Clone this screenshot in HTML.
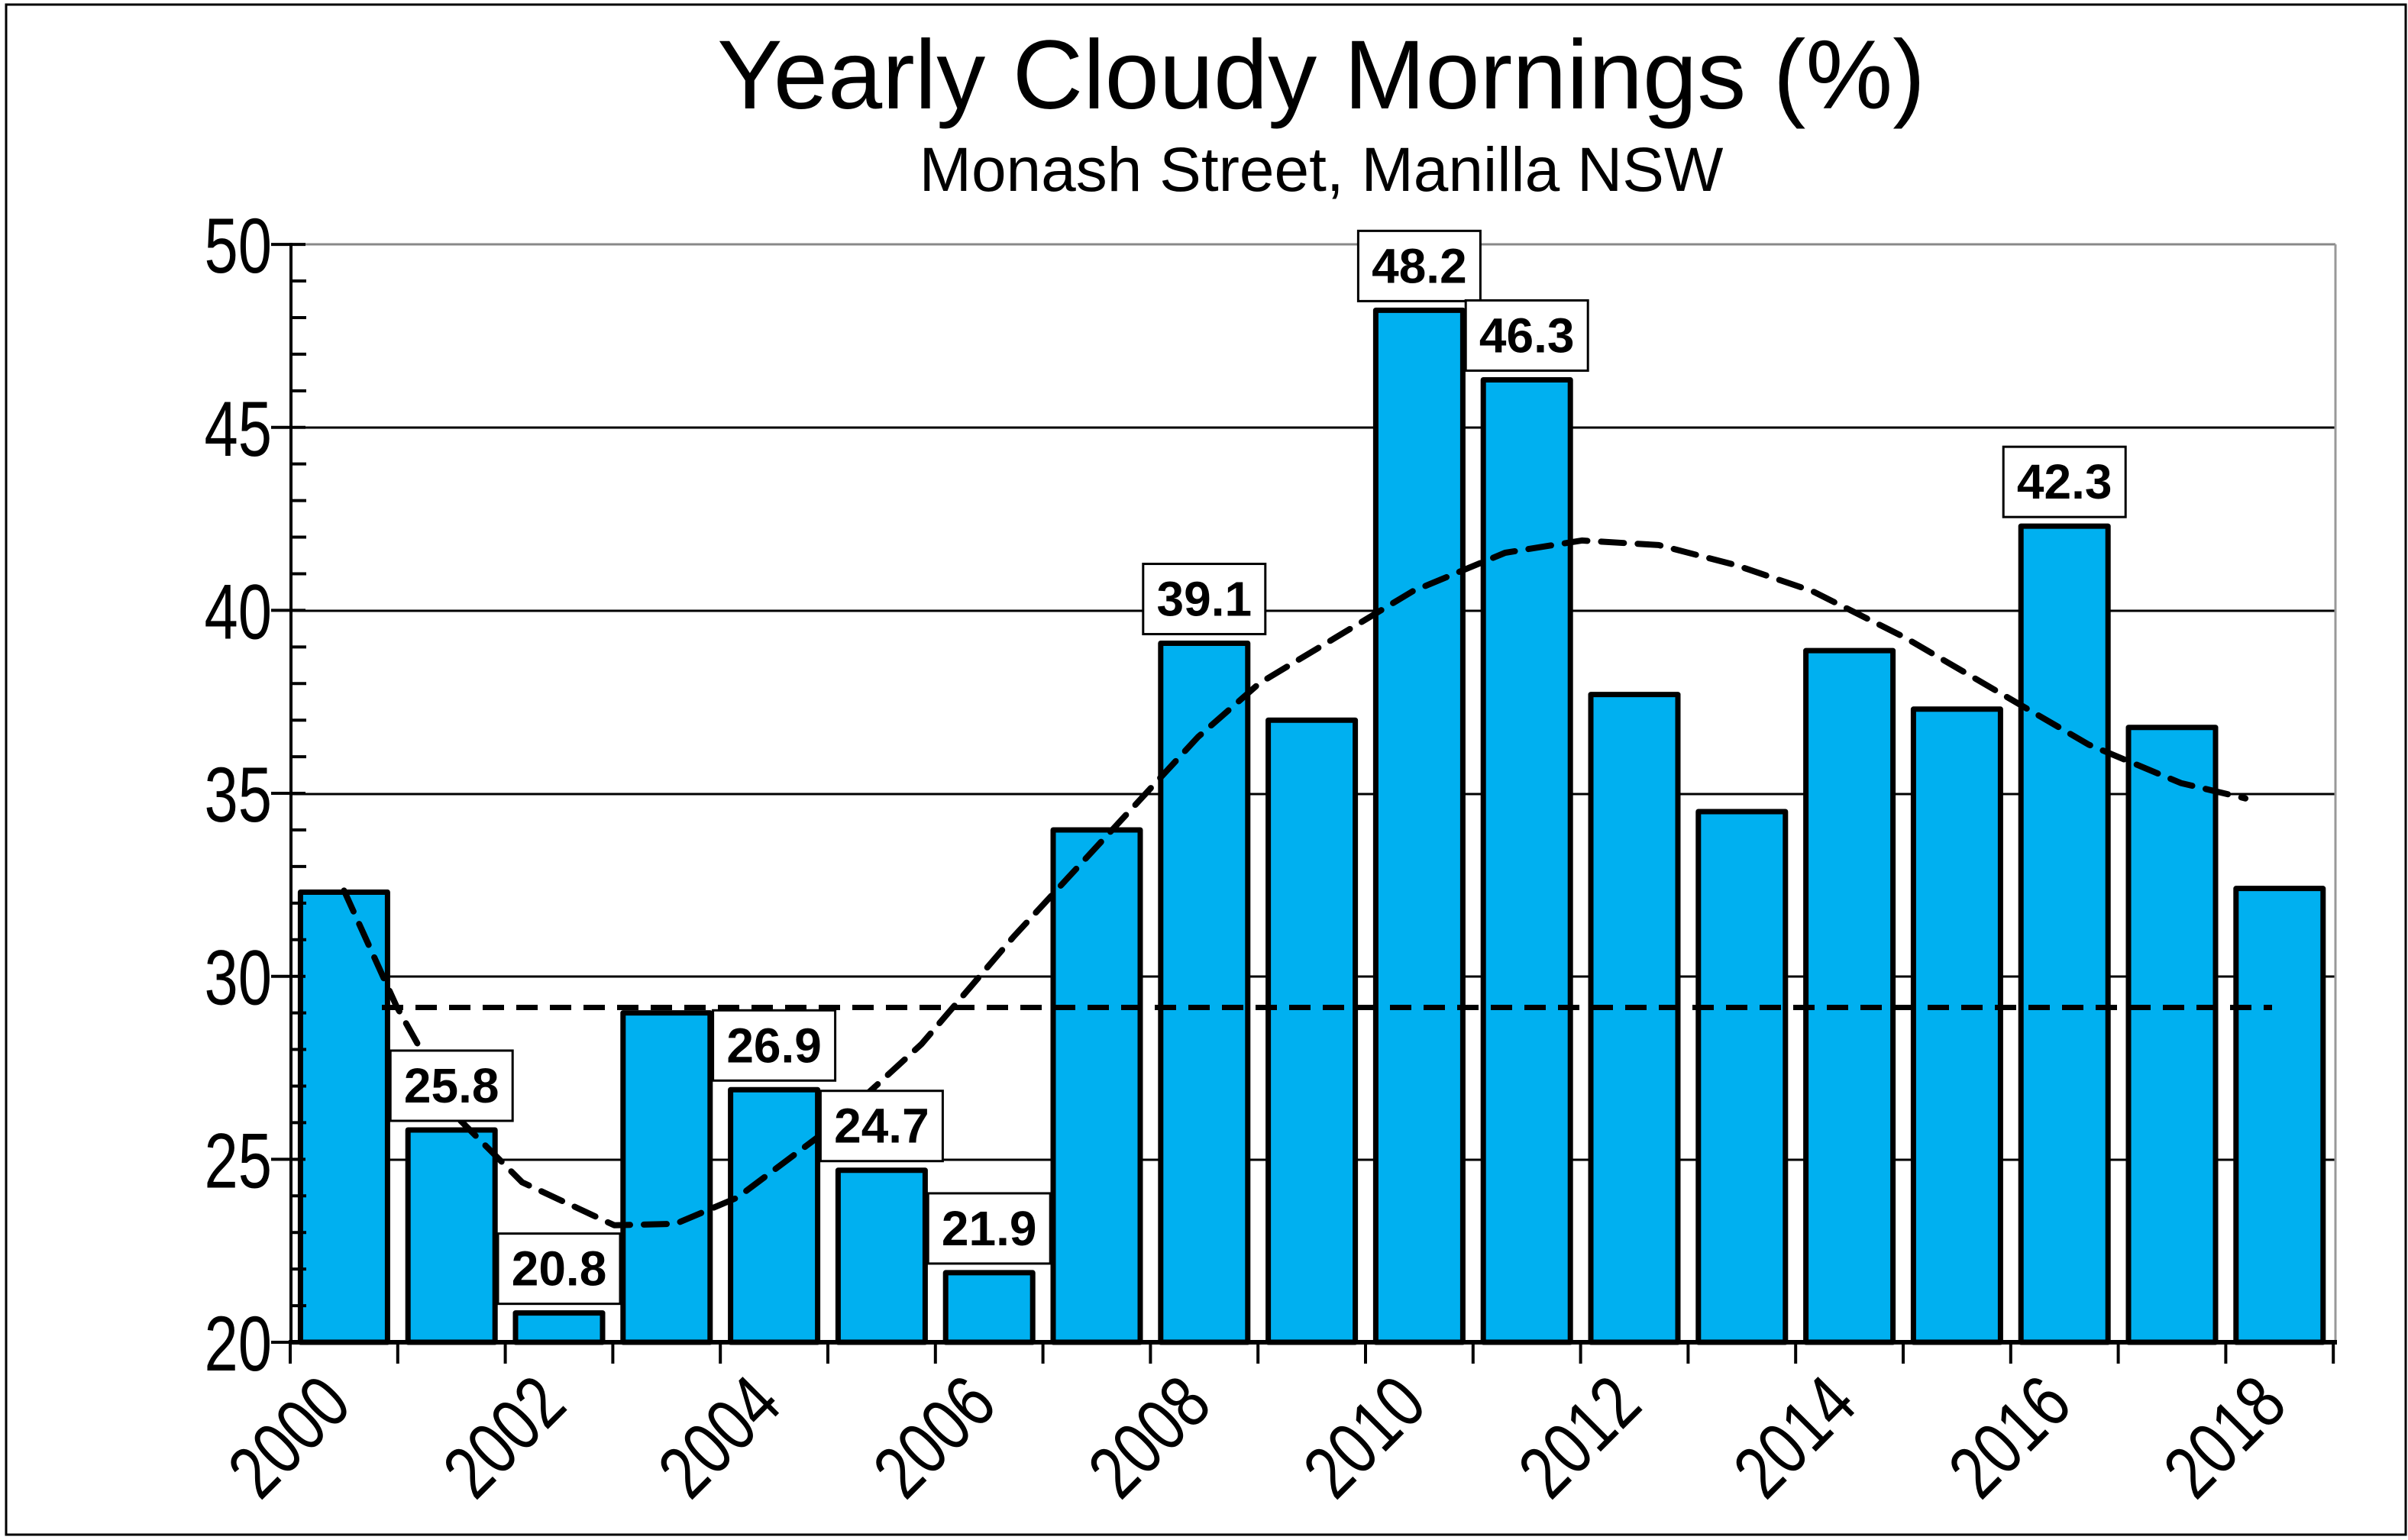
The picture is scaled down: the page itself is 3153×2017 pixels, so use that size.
<!DOCTYPE html>
<html><head><meta charset="utf-8"><style>
html,body{margin:0;padding:0;background:#fff;}
svg{display:block;}
text{font-family:"Liberation Sans",sans-serif;}
</style></head><body>
<svg width="3153" height="2017" viewBox="0 0 3153 2017" xmlns="http://www.w3.org/2000/svg">
<rect x="0" y="0" width="3153" height="2017" fill="#fff"/>
<rect x="8" y="6" width="3142" height="2004" fill="none" stroke="#000" stroke-width="3"/>
<text x="1730" y="142" font-size="128" text-anchor="middle">Yearly Cloudy Mornings (%)</text>
<text x="1730" y="250" font-size="82" text-anchor="middle">Monash Street, Manilla NSW</text>
<g id="grid" stroke-width="3">
<line x1="355" y1="320" x2="3058" y2="320" stroke="#888"/>
<line x1="380" y1="560" x2="3058" y2="560" stroke="#000"/>
<line x1="380" y1="800" x2="3058" y2="800" stroke="#000"/>
<line x1="380" y1="1040" x2="3058" y2="1040" stroke="#000"/>
<line x1="380" y1="1279" x2="3058" y2="1279" stroke="#000"/>
<line x1="380" y1="1519" x2="3058" y2="1519" stroke="#000"/>
<line x1="3058" y1="320" x2="3058" y2="1758" stroke="#999"/>
</g>
<g id="bars" fill="#00B0F0" stroke="#000" stroke-width="7" stroke-linejoin="round"></g>
<g id="trend"></g>
<g id="axes" stroke="#000"></g>
<g id="labels"></g>
</svg>
<script>
(function(){
var ns="http://www.w3.org/2000/svg";
function el(p,t,a,txt){var e=document.createElementNS(ns,t);for(var k in a)e.setAttribute(k,a[k]);if(txt!==undefined)e.textContent=txt;p.appendChild(e);return e;}
var vals=[32.3,25.8,20.8,29.0,26.9,24.7,21.9,34.0,39.1,37.0,48.2,46.3,37.7,34.5,38.9,37.3,42.3,36.8,32.4];
var X0=380,W=140.8,Y0=1758;
function y(v){return Y0-(v-20)*47.93;}
var bars=document.getElementById('bars');
vals.forEach(function(v,i){var cx=X0+(i+0.5)*W;el(bars,'rect',{x:cx-57,y:y(v),width:114,height:Y0-y(v)});});
var tr=document.getElementById('trend');
el(tr,'line',{x1:500,y1:y(29.15),x2:2975,y2:y(29.15),stroke:'#000','stroke-width':7,'stroke-dasharray':'28 16'});
var pts=[[224,580],[258,655],[300,730],[340,770],[400,798],[440,797],[480,780],[540,735],[600,680],[660,610],[720,545],[780,480],[820,445],[870,415],[920,385],[980,360],[1030,352],[1080,355],[1130,368],[1180,385],[1240,415],[1300,450],[1360,485],[1420,510],[1462,520]];
var d='';pts.forEach(function(p,i){d+=(i?' L':'M')+(p[0]*2.011).toFixed(1)+' '+(p[1]*2.011).toFixed(1);});
el(tr,'path',{d:d,fill:'none',stroke:'#000','stroke-width':8,'stroke-dasharray':'30 18','stroke-linejoin':'round','stroke-linecap':'round'});
var ax=document.getElementById('axes');
el(ax,'line',{x1:381,y1:318,x2:381,y2:1760,'stroke-width':4});
el(ax,'line',{x1:378,y1:1758,x2:3060,y2:1758,'stroke-width':6});
for(var v=20;v<=50;v++){var yy=y(v);if(v%5==0)el(ax,'line',{x1:355,y1:yy,x2:400,y2:yy,'stroke-width':4});else el(ax,'line',{x1:381,y1:yy,x2:401,y2:yy,'stroke-width':4});}
for(var i=0;i<=19;i++){var xx=X0+i*W;el(ax,'line',{x1:xx,y1:1758,x2:xx,y2:1786,'stroke-width':4});}
var lb=document.getElementById('labels');
for(var v=20;v<=50;v+=5){el(lb,'text',{x:0,y:0,'font-size':102,'text-anchor':'end',transform:'translate(356,'+(y(v)+37)+') scale(0.78,1)'},String(v));}
for(var i=0;i<=18;i+=2){var xx=X0+i*W;el(lb,'text',{x:0,y:0,dy:62,'font-size':98,'text-anchor':'end',transform:'translate('+(xx+40)+',1800) rotate(-45) scale(0.8,1)'},String(2000+i));}
var shown=[1,2,4,5,6,8,10,11,16];
shown.forEach(function(i){var cx=X0+(i+0.5)*W;var top=y(vals[i])-12;
el(lb,'rect',{x:cx-80,y:top-92,width:160,height:92,fill:'#fff',stroke:'#000','stroke-width':3});
el(lb,'text',{x:cx,y:top-24,'font-size':64,'font-weight':'bold','text-anchor':'middle'},vals[i].toFixed(1));});
})();
</script>
</body></html>
